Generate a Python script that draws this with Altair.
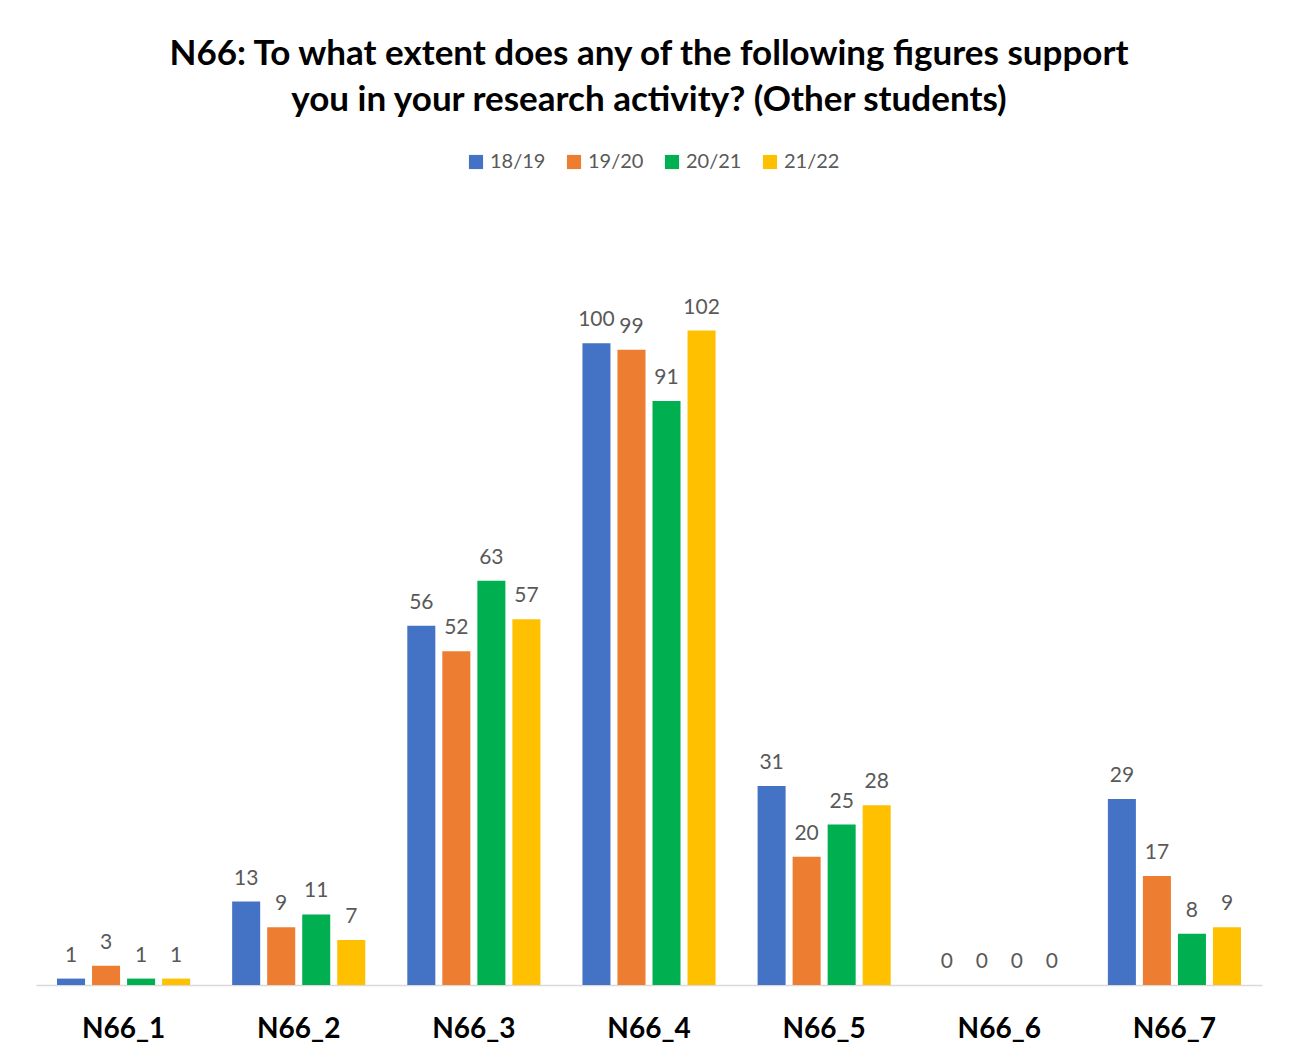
import altair as alt
import pandas as pd

categories = ["N66_1", "N66_2", "N66_3", "N66_4", "N66_5", "N66_6", "N66_7"]
series = ["18/19", "19/20", "20/21", "21/22"]
values = {
    "18/19": [1, 13, 56, 100, 31, 0, 29],
    "19/20": [3, 9, 52, 99, 20, 0, 17],
    "20/21": [1, 11, 63, 91, 25, 0, 8],
    "21/22": [1, 7, 57, 102, 28, 0, 9],
}
colors = ["#4472C4", "#ED7D31", "#00B050", "#FFC000"]

rows = []
for s in series:
    for c, v in zip(categories, values[s]):
        rows.append({"cat": c, "year": s, "value": v})
df = pd.DataFrame(rows)

x = alt.X("cat:N", sort=categories, title=None,
          scale=alt.Scale(paddingInner=0.24, paddingOuter=0.12),
          axis=alt.Axis(labelAngle=0, labelFont="Lato", labelFontSize=28,
                        labelFontWeight="bold", labelColor="#000000",
                        labelPadding=30, ticks=False, domainColor="#D9D9D9",
                        domainWidth=1.5, grid=False))
xo = alt.XOffset("year:N", sort=series, scale=alt.Scale(paddingInner=0.2))
y = alt.Y("value:Q", scale=alt.Scale(domain=[0, 120]), axis=None)

bars = alt.Chart(df).mark_bar().encode(
    x=x, xOffset=xo, y=y,
    color=alt.Color("year:N", sort=series,
                    scale=alt.Scale(domain=series, range=colors),
                    legend=alt.Legend(title=None, orient="none", direction="horizontal",
                                      legendX=430, legendY=-63,
                                      symbolType="square", symbolSize=200,
                                      symbolStrokeWidth=0,
                                      labelFont="Lato", labelFontSize=20,
                                      labelColor="#595959", columnPadding=18,
                                      labelOffset=4)),
)

labels = alt.Chart(df).mark_text(baseline="bottom", dy=-13, font="Lato",
                                 fontSize=21, color="#595959").encode(
    x=x, xOffset=xo, y=y, text="value:Q")

chart = (bars + labels).properties(
    width=1226, height=770,
    title=alt.TitleParams(
        ["N66: To what extent does any of the following figures support",
         "you in your research activity? (Other students)"],
        font="Lato", fontSize=35, fontWeight="bold", color="#000000",
        anchor="middle", lineHeight=46, offset=34),
    autosize=alt.AutoSizeParams(type="none"),
    padding={"left": 28, "top": 207, "right": 20, "bottom": 60},
).configure_view(stroke=None)

chart.save("out.html", embed_options={"renderer": "svg", "actions": False})
